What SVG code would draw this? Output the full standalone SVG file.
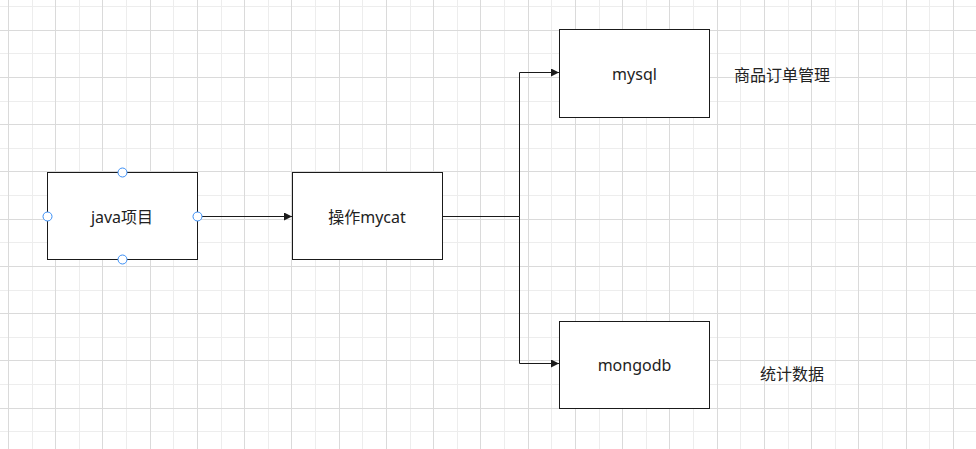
<svg xmlns="http://www.w3.org/2000/svg" width="976" height="449" viewBox="0 0 976 449">
<style>
.minor{stroke:#ededed;stroke-width:1;fill:none}
.major{stroke:#dadada;stroke-width:1;fill:none}
.box{fill:#ffffff;stroke:#1a1a1a;stroke-width:1}
.lbl{font-family:"Noto Sans","Noto Sans CJK SC",sans-serif;font-size:16px;fill:#222222}
.edge{stroke:#1a1a1a;stroke-width:1;fill:none}
.handle{fill:#ffffff;stroke:#3a8ef6;stroke-width:1}
</style>
<defs>
<marker id="arr" viewBox="0 0 8 8" refX="8" refY="4" markerWidth="8" markerHeight="8" markerUnits="userSpaceOnUse" orient="auto">
<path d="M0,0 L8,4 L0,8 Z" fill="#1a1a1a"/>
</marker>
</defs>
<rect width="976" height="449" fill="#ffffff"/>
<g id="grid">
<path class="minor" d="M32.5,0V449M79.5,0V449M126.5,0V449M173.5,0V449M221.5,0V449M268.5,0V449M315.5,0V449M362.5,0V449M410.5,0V449M457.5,0V449M504.5,0V449M551.5,0V449M599.5,0V449M646.5,0V449M693.5,0V449M740.5,0V449M788.5,0V449M835.5,0V449M882.5,0V449M929.5,0V449M0,6.5H976M0,53.5H976M0,101.5H976M0,148.5H976M0,195.5H976M0,242.5H976M0,290.5H976M0,337.5H976M0,384.5H976M0,431.5H976"/>
<path class="major" d="M8.5,0V449M55.5,0V449M102.5,0V449M150.5,0V449M197.5,0V449M244.5,0V449M291.5,0V449M339.5,0V449M386.5,0V449M433.5,0V449M480.5,0V449M528.5,0V449M575.5,0V449M622.5,0V449M669.5,0V449M717.5,0V449M764.5,0V449M811.5,0V449M858.5,0V449M906.5,0V449M953.5,0V449M0,30.5H976M0,77.5H976M0,124.5H976M0,171.5H976M0,219.5H976M0,266.5H976M0,313.5H976M0,360.5H976M0,408.5H976"/>
</g>
<g id="connectors">
<path class="edge" d="M197.5,216.5H292" marker-end="url(#arr)"/>
<path class="edge" d="M442.5,216.5H519.5V72.5H559" marker-end="url(#arr)"/>
<path class="edge" d="M519.5,216.5V363.5H559" marker-end="url(#arr)"/>
</g>
<g id="node-java">
<rect class="box" x="47.5" y="172.5" width="150" height="87"/>
<text class="lbl" x="122" y="223" text-anchor="middle">java项目</text>
<circle class="handle" cx="122.5" cy="172.5" r="4.5"/>
<circle class="handle" cx="122.5" cy="259.5" r="4.5"/>
<circle class="handle" cx="47.5" cy="216.5" r="4.5"/>
<circle class="handle" cx="197.5" cy="216.5" r="4.5"/>
</g>
<g id="node-mycat">
<rect class="box" x="292.5" y="172.5" width="150" height="87"/>
<text class="lbl" x="367" y="223" text-anchor="middle">操作mycat</text>
</g>
<g id="node-mysql">
<rect class="box" x="559.5" y="29.5" width="150" height="88"/>
<text class="lbl" x="634.5" y="80" text-anchor="middle">mysql</text>
</g>
<g id="node-mongodb">
<rect class="box" x="559.5" y="321.5" width="150" height="87"/>
<text class="lbl" x="634.5" y="371" text-anchor="middle">mongodb</text>
</g>
<g id="label-mysql-note">
<text class="lbl" x="734" y="80.5">商品订单管理</text>
</g>
<g id="label-mongodb-note">
<text class="lbl" x="760" y="379.5">统计数据</text>
</g>
</svg>
